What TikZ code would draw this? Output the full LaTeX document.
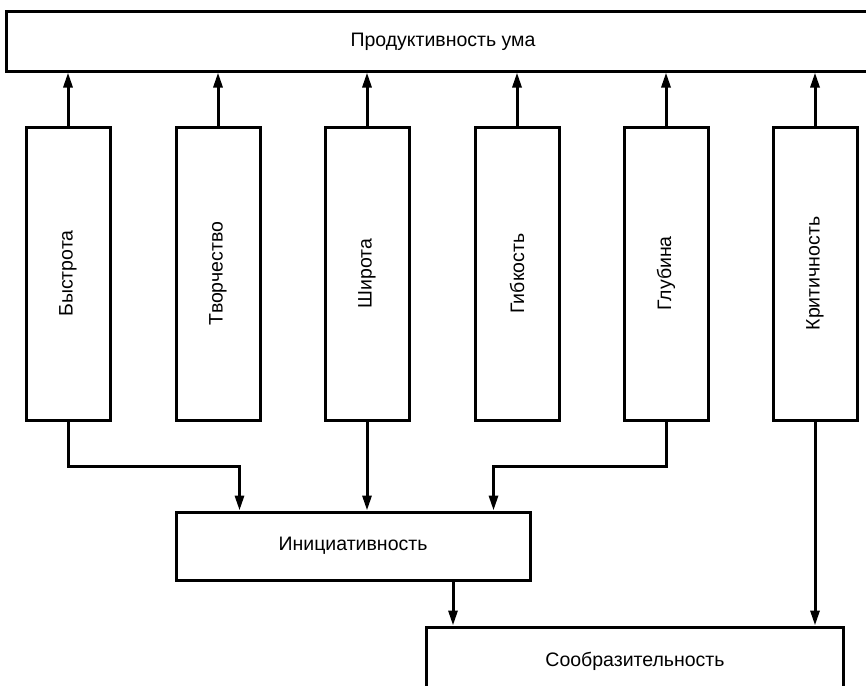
\documentclass[tikz,border=0pt]{standalone}
\usepackage{fontspec}
\setmainfont{Liberation Sans}
\usetikzlibrary{arrows.meta}
\tikzset{
  blk/.style={draw,line width=3pt,inner sep=0pt,font=\fontsize{19.5}{23}\selectfont},
  quality/.style={blk,minimum width=84pt,minimum height=293pt},
}
\begin{document}
\begin{tikzpicture}[x=1pt,y=-1pt,line width=3pt,line join=miter,>={Triangle[length=15pt,width=9pt]}]
\useasboundingbox (0,0) rectangle (866,685);
\node[blk,minimum width=880pt,minimum height=59pt] (prod) at (446,41.5) {};
\node[font=\fontsize{19.5}{23}\selectfont] (prodtext) at (443,41.5) {Продуктивность ума};
\foreach \n/\x/\t in {1/68/Быстрота,2/218/Творчество,3/367/Широта,4/517/Гибкость,5/666/Глубина,6/815/Критичность}
  {\node[quality] (q\n) at (\x,273.5) {\rotatebox{90}{\t}};
   \draw[->] (q\n.north) -- (q\n.north |- prod.south);}
\node[blk,minimum width=354pt,minimum height=68pt] (init) at (353,546) {Инициативность};
\node[blk,minimum width=417pt,minimum height=68pt] (sobr) at (635,661) {Сообразительность};
%\draw[help lines] (0,0) grid[step=50] (866,685);
\draw[->] (q1.south) -- ++(0,45) -| ([xshift=65pt]init.north west);
\draw[->] (q3.south) -- (q3.south |- init.north);
\draw[->] (q5.south) -- ++(0,45) -| ([xshift=-38pt]init.north east);
\draw[->] ([xshift=100pt]init.south) -- ([xshift=100pt]init.south |- sobr.north);
\draw[->] (q6.south) -- (q6.south |- sobr.north);
\end{tikzpicture}
\end{document}
